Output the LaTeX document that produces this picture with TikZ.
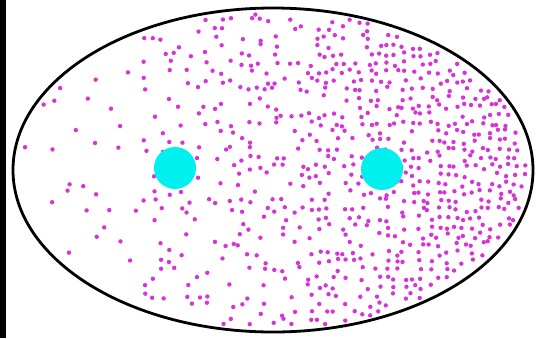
\documentclass[tikz,border=0pt]{standalone}
\usepackage{tikz}
\usepackage{xcolor}

\definecolor{dotpink}{RGB}{214,52,214}
\definecolor{disccyan}{RGB}{0,240,240}

\begin{document}
\begin{tikzpicture}[
    x=1pt, y=-1pt,
    rim/.style={draw=black, line width=2.8pt},
    dotm/.style={fill=dotpink},
    disc/.style={fill=disccyan}
]
    % frame and left strip
    \useasboundingbox (0,0) rectangle (537,338);
    \fill[white] (0,0) rectangle (537,338);
    \fill[black] (0,0) rectangle (6,338);

    % scattered dots on a jittered grid, denser to the right
    \pgfmathsetseed{4127}
    \foreach \cx in {0,...,60} {
        \foreach \cy in {0,...,37} {
            \pgfmathsetmacro{\px}{14+\cx*8.6+6*rnd}
            \pgfmathsetmacro{\py}{9+\cy*8.6+6*rnd}
            \pgfmathsetmacro{\rr}{((\px-273)/260)^2+((\py-170)/162)^2}
            \pgfmathsetmacro{\pp}{0.07+0.93*((\px-13)/520)^1.4}
            \pgfmathtruncatemacro{\ok}{and(\rr<0.95, rnd<\pp)}
            \ifnum\ok=1
                \fill[dotm] (\px,\py) circle (2.2);
            \fi
        }
    }

    % the two discs
    \fill[disc] (175,168) circle (21);
    \fill[disc] (382,169) circle (21);

    % outline
    \draw[rim] (273,170) ellipse (260 and 162);
\end{tikzpicture}
\end{document}
